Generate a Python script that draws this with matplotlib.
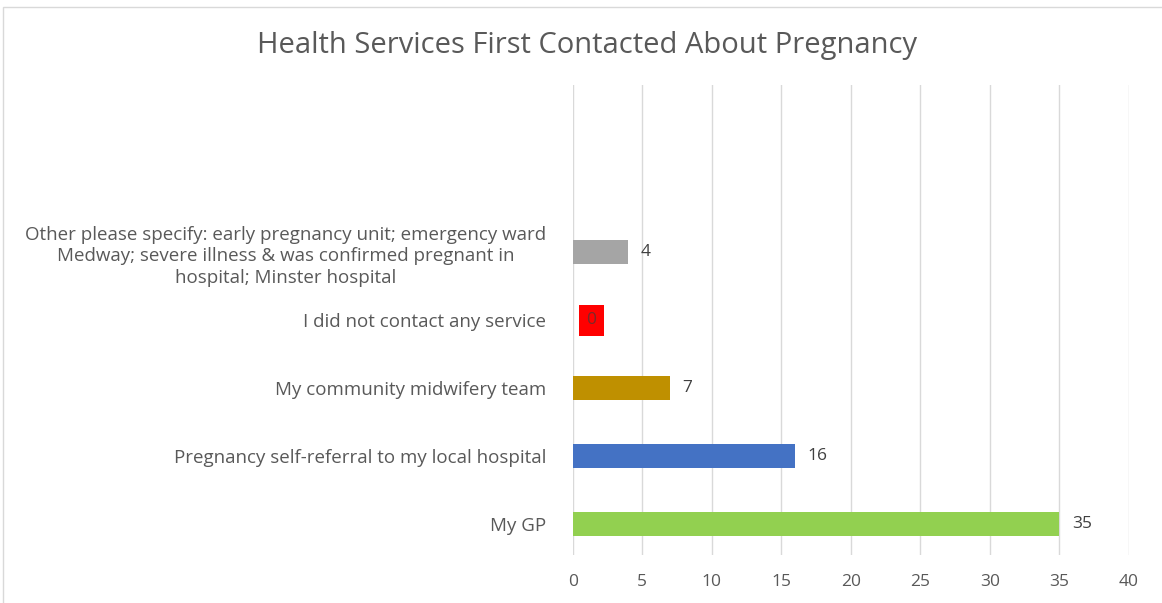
import matplotlib
matplotlib.use("Agg")
import matplotlib.pyplot as plt
from matplotlib.patches import Rectangle

# data, bottom to top as drawn
categories = [
    "My GP",
    "Pregnancy self-referral to my local hospital",
    "My community midwifery team",
    "I did not contact any service",
    "Other please specify: early pregnancy unit; emergency ward\n"
    "Medway; severe illness & was confirmed pregnant in\n"
    "hospital; Minster hospital",
]
counts = [35, 16, 7, 0, 4]
colors = ["#92D050", "#4472C4", "#BF9000", "#FF0000", "#A5A5A5"]
xticks = [0, 5, 10, 15, 20, 25, 30, 35, 40]

plt.rcParams["font.family"] = ["Open Sans", "DejaVu Sans"]
txt = "#595959"

fig = plt.figure(figsize=(11.62, 6.03), dpi=100)
ax = fig.add_axes([0.493, 0.0796, 0.4785, 0.7794])

ypos = list(range(len(categories)))
ax.barh(ypos, counts, height=0.35, color=colors, zorder=3)

for y, v in zip(ypos, counts):
    if v == 0:
        # zero value: label sits in a red box at the axis
        ax.annotate(str(v), (v, y), xytext=(13.5, 0), textcoords="offset points",
                    ha="center", va="center", fontsize=12.5, color="#7a2a2a",
                    bbox=dict(boxstyle="square,pad=0.45", fc="#FF0000", ec="none"),
                    zorder=4)
    else:
        ax.annotate(str(v), (v, y), xytext=(9, 0), textcoords="offset points",
                    ha="left", va="center", fontsize=12.5, color="#404040", zorder=4)

ax.set_xlim(0, 40)
ax.set_ylim(-0.45, 6.46)
ax.set_xticks(xticks)
ax.set_yticks(ypos)
ax.set_yticklabels(categories, fontsize=13.5, color=txt, multialignment="center",
                   linespacing=1.25)
ax.tick_params(axis="x", length=0, pad=14, labelsize=12.5, labelcolor=txt)
ax.tick_params(axis="y", length=0, pad=19)
ax.grid(axis="x", color="#D9D9D9", linewidth=1, zorder=0)
for s in ax.spines.values():
    s.set_visible(False)

fig.suptitle("Health Services First Contacted About Pregnancy", x=0.505, y=0.948,
             fontsize=21, color=txt)

# chart area border
fig.patches.append(Rectangle((0.003, -0.1), 1.2, 1.088, transform=fig.transFigure,
                             fill=False, ec="#D9D9D9", lw=1))

fig.savefig("out.png", dpi=100)
